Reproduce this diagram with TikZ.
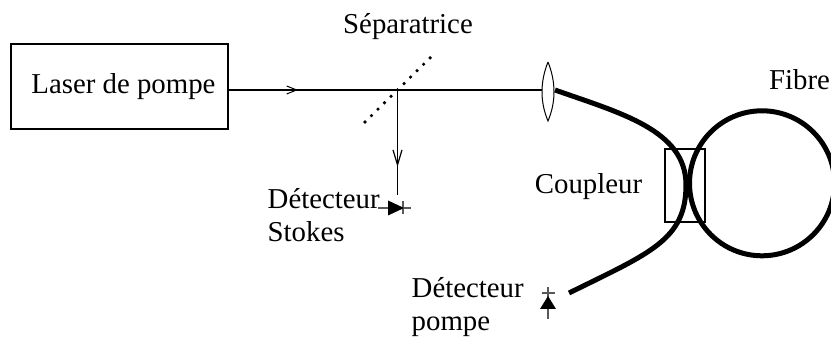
\documentclass[tikz,border=0pt]{standalone}
\usepackage{fontspec}
\setmainfont{Liberation Serif}
\usetikzlibrary{arrows.meta}
\tikzset{
  labeltext/.style={font=\fontsize{8.2}{9.4}\selectfont, inner sep=0pt, align=left},
  beam/.style={line width=.14mm},
  fibre/.style={line width=.5mm},
  smalltip/.style={-{Straight Barb[length=1mm,width=.8mm,line width=.1mm]}},
  longtip/.style={-{Straight Barb[length=1.5mm,width=.9mm,line width=.12mm]}},
  diodelead/.style={line width=.12mm, black!65},
}
\begin{document}
\begin{tikzpicture}
\useasboundingbox (0,0) rectangle (8.31,3.38);

\node[draw, line width=.25mm, minimum width=2.17cm, minimum height=.85cm, labeltext] (laser) at (1.195,2.515) {\hspace{.08cm}\raisebox{-.015cm}{Laser de pompe}};
\node[labeltext] (sep) at (4.08,3.11) {Séparatrice};
\node[labeltext] (fibrelabel) at (7.995,2.58) {Fibre};
\node[labeltext] (couplabel) at (5.885,1.51) {Coupleur};
\node[labeltext, anchor=west] (detstokes) at (2.67,1.23) {Détecteur\\Stokes};
\node[labeltext, anchor=west] (detpompe) at (4.11,.31) {Détecteur\\pompe};

\coordinate (start) at (2.28,2.48);
\coordinate (split) at (3.975,2.48);
\coordinate (lensin) at (5.42,2.48);
\coordinate (stokes) at (3.975,1.43);

% faisceau
\draw[beam] (start) -- (lensin);
\draw[beam, smalltip] (start) -- (2.98,2.48);
\draw[beam] (split) -- (stokes);
\draw[beam, longtip] (split) -- (3.975,1.71);
\draw[line width=.36mm, line cap=round, dash pattern=on 0pt off 2.6pt] (3.65,2.16) -- (4.31,2.81);

% lentille
\draw[line width=.1mm] (5.48,2.76) .. controls (5.40,2.56) and (5.40,2.36) .. (5.48,2.17) .. controls (5.56,2.36) and (5.56,2.56) .. (5.48,2.76);

% fibre
\draw[fibre] (7.62,1.547) circle (.725);
\draw[fibre] (5.55,2.48) .. controls (6.2,2.25) and (6.86,2.08) .. (6.86,1.53) .. controls (6.86,.98) and (6.5,.85) .. (5.69,.45);

% coupleur
\draw[line width=.2mm] (6.65,1.16) rectangle (7.05,1.89);

% detecteur Stokes
\coordinate (dstokes) at (3.96,1.30);
\draw[diodelead] (dstokes) ++(-.18,0) -- ++(.33,0);
\draw[diodelead] (dstokes) ++(.07,-.065) -- ++(0,.13);
\fill (dstokes) ++(-.08,-.075) -- ++(0,.15) -- ++(.16,-.075) -- cycle;

% detecteur pompe
\coordinate (dpompe) at (5.48,.36);
\draw[diodelead] (dpompe) ++(0,.15) -- ++(0,-.32);
\draw[diodelead] (dpompe) ++(-.065,.09) -- ++(.13,0);
\fill (dpompe) ++(-.08,-.07) -- ++(.16,0) -- ++(-.08,.13) -- cycle;
\end{tikzpicture}
\end{document}
